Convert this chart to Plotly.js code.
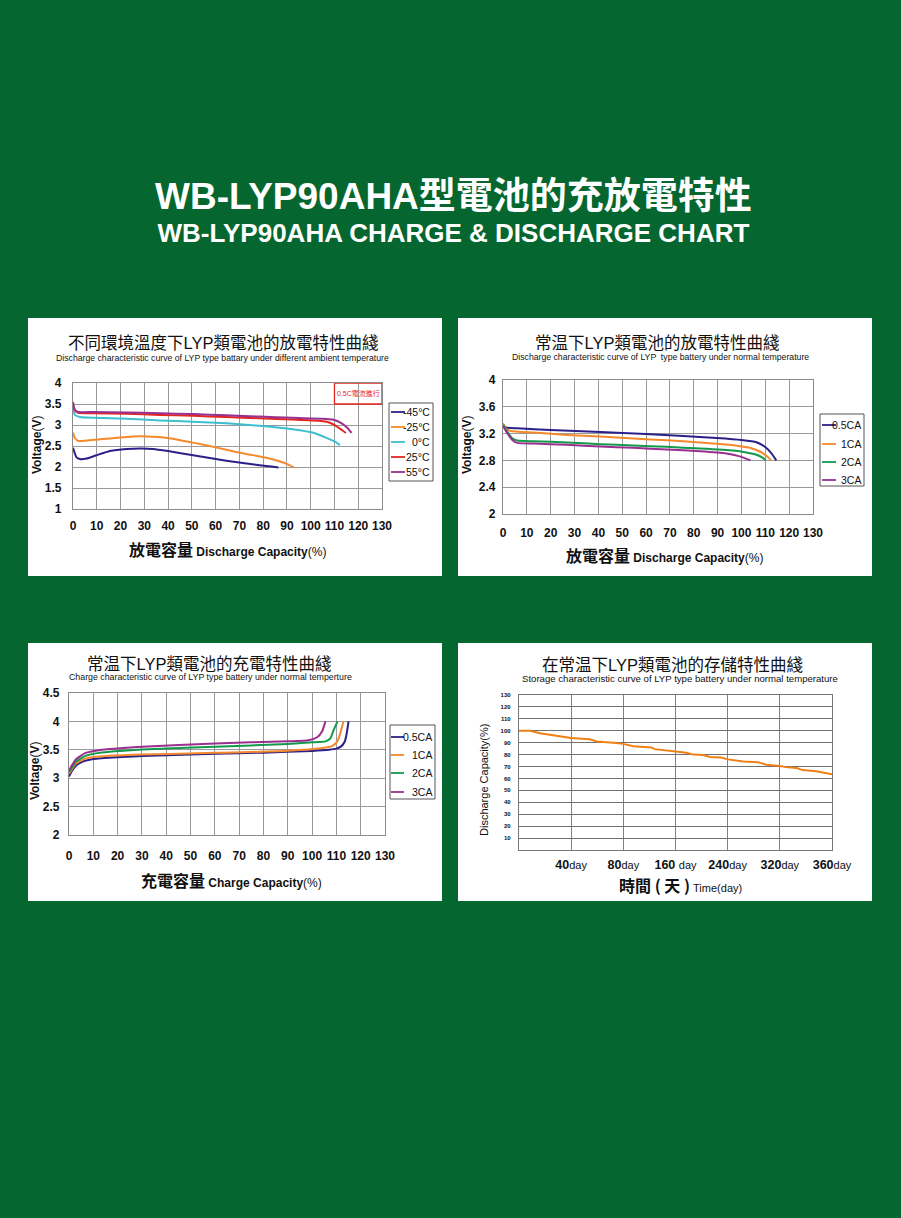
<!DOCTYPE html>
<html><head><meta charset="utf-8">
<script src="https://cdn.plot.ly/plotly-3.0.1.min.js"></script>
<style>html,body{margin:0;padding:0;background:#05672f;}#chart{width:901px;height:1218px;}</style>
</head><body><div id="chart"></div>
<script>
// ---------- DATA ----------
// Panel 1: discharge at different ambient temperatures (capacity %, voltage V)
const tempNames = ["-45°C", "-25°C", "0°C", "25°C", "55°C"];
const capM45 = [0,1.5,2.9,5.7,9.9,15.5,22.5,28.8,33.7,40,50.5,64.5,78.5,86.4];
const voltM45 = [2.46,2.23,2.19,2.2,2.28,2.38,2.43,2.44,2.43,2.38,2.28,2.15,2.04,1.99];
const capM25 = [0,0.8,2.2,5.7,11.3,19.7,28.1,33.7,40,50.5,57.5,64.5,72.9,81.3,89.7,92.9];
const voltM25 = [2.82,2.69,2.62,2.63,2.66,2.70,2.73,2.72,2.69,2.58,2.5,2.41,2.31,2.22,2.08,1.99];
const cap0 = [0,0.8,2.9,8.5,22.5,36.5,50.5,64.5,78.5,92.4,100.8,106.4,110.6,112.3];
const volt0 = [3.37,3.24,3.19,3.17,3.15,3.11,3.08,3.04,2.98,2.90,2.82,2.70,2.59,2.52];
const capP25 = [0,0.8,2.2,8.5,22.5,36.5,50.5,64.5,78.5,92.4,103.6,107.8,110.6,113.4,114.8];
const voltP25 = [3.47,3.35,3.29,3.28,3.27,3.24,3.22,3.19,3.16,3.13,3.10,3.06,2.98,2.87,2.81];
const capP55 = [0,0.8,2.2,8.5,22.5,36.5,50.5,64.5,78.5,92.4,105,109.2,112.7,115.5,117.2];
const voltP55 = [3.55,3.36,3.31,3.31,3.30,3.28,3.26,3.23,3.20,3.17,3.15,3.13,3.05,2.93,2.81];

// Panel 2: discharge at normal temperature, different rates
const rateNames = ["0.5CA", "1CA", "2CA", "3CA"];
const dCap05 = [0,1.1,6,19.9,40.8,59.9,75.6,89.6,100,106.3,109.7,112.5,114.6];
const dVolt05 = [3.343,3.294,3.279,3.254,3.225,3.195,3.165,3.136,3.106,3.072,3.007,2.909,2.8];
const dCap1 = [0,1.1,3.2,13,26.9,40.8,54.7,68.7,82.6,96.5,103.5,107.7,110.4,112.5];
const dVolt1 = [3.353,3.279,3.24,3.215,3.18,3.156,3.126,3.101,3.067,3.027,2.988,2.933,2.869,2.8];
const dCap2 = [0,1.8,3.9,6,13,26.9,40.8,54.7,68.7,82.6,96.5,102.1,106.3,109.1,110.2];
const dVolt2 = [3.328,3.23,3.131,3.096,3.086,3.067,3.042,3.022,3.002,2.978,2.948,2.919,2.884,2.835,2.8];
const dCap3 = [0,1.8,3.9,6,13,26.9,40.8,54.7,68.7,82.6,93.7,99.3,103.8];
const dVolt3 = [3.314,3.205,3.106,3.062,3.052,3.032,3.007,2.988,2.963,2.938,2.904,2.86,2.8];

// Panel 3: charge at normal temperature, different rates
const cCap05 = [0,1.4,3.4,6.2,10,20,40,60,80,100,107,110,112,113.5,114.3,115];
const cVolt05 = [3.03,3.14,3.24,3.30,3.34,3.37,3.405,3.43,3.45,3.48,3.50,3.52,3.56,3.65,3.8,4.0];
const cCap1 = [0,1.4,2.7,6.8,10.1,30.1,60.1,90,104.1,108.2,110.3,111.6,112.9];
const cVolt1 = [3.077,3.17,3.256,3.345,3.375,3.417,3.446,3.482,3.53,3.565,3.643,3.79,4.0];
const cCap2 = [0,1.4,2.7,6.8,12.3,30.1,60.1,90,100,105.5,107.5,108.9,110.5];
const cVolt2 = [3.107,3.2,3.286,3.393,3.446,3.506,3.554,3.601,3.631,3.649,3.702,3.851,4.0];
const cCap3 = [0,1.4,2.7,6.8,12.3,30.1,60.1,90,98.6,102.1,104.1,105.5];
const cVolt3 = [3.137,3.24,3.327,3.446,3.494,3.554,3.613,3.649,3.667,3.72,3.821,4.0];

// Panel 4: storage (position along the day axis, 0..6 grid steps; capacity %)
const dayTickLabels = ["40", "80", "160 ", "240", "320", "360"];
const storePos = [0,0.21,0.40,0.56,0.85,1.0,1.36,1.49,1.81,2.0,2.19,2.54,2.60,3.0,3.21,3.34,3.53,3.66,3.88,4.0,4.30,4.58,4.74,5.0,5.12,5.32,5.44,5.70,6.0];
const storeCap = [100,100,98,96.9,95.5,94,92.8,91,90,89,87,86,84.6,82.5,81.6,80,79.6,78,77.5,76,74.3,73.7,71.5,70.4,69.5,68.7,67,66,63.5];

const ticks1Y = [1,1.5,2,2.5,3,3.5,4];
const ticks2Y = [2,2.4,2.8,3.2,3.6,4];
const ticks3Y = [2,2.5,3,3.5,4,4.5];
const ticks4Y = [0,10,20,30,40,50,60,70,80,90,100,110,120,130];
const ticksCap = [0,10,20,30,40,50,60,70,80,90,100,110,120,130];

// ---------- STYLE ----------
const W = 901, H = 1218;
const X = px => px / W;
const Y = py => 1 - py / H;
const FONT = "Liberation Sans Narrow, Arial Narrow, Liberation Sans, Arial, Noto Sans CJK TC, sans-serif";
const CJK = "Liberation Sans, Arial, Noto Sans CJK TC, sans-serif";
const C = {navy:"#2b2088", orange:"#f48a2b", cyan:"#3cc0d0", red:"#e3261f", purple:"#99308f", green:"#13994b", store:"#f07f14"};
const tempColors = [C.navy, C.orange, C.cyan, C.red, C.purple];
const rateColors = [C.navy, C.orange, C.green, C.purple];
const GRID = "#9a9a9a";

function line(x, y, color, xa, ya, name) {
  return {type:"scatter", mode:"lines", x:x, y:y, name:name, xaxis:xa, yaxis:ya,
    line:{color:color, width:2, shape:"spline", smoothing:0.5}, showlegend:false, hoverinfo:"skip"};
}

const traces = [
  line(capM45, voltM45, tempColors[0], "x", "y", tempNames[0]),
  line(capM25, voltM25, tempColors[1], "x", "y", tempNames[1]),
  line(cap0, volt0, tempColors[2], "x", "y", tempNames[2]),
  line(capP25, voltP25, tempColors[3], "x", "y", tempNames[3]),
  line(capP55, voltP55, tempColors[4], "x", "y", tempNames[4]),
  line(dCap05, dVolt05, rateColors[0], "x2", "y2", rateNames[0]),
  line(dCap1, dVolt1, rateColors[1], "x2", "y2", rateNames[1]),
  line(dCap2, dVolt2, rateColors[2], "x2", "y2", rateNames[2]),
  line(dCap3, dVolt3, rateColors[3], "x2", "y2", rateNames[3]),
  line(cCap05, cVolt05, rateColors[0], "x3", "y3", rateNames[0]),
  line(cCap1, cVolt1, rateColors[1], "x3", "y3", rateNames[1]),
  line(cCap2, cVolt2, rateColors[2], "x3", "y3", rateNames[2]),
  line(cCap3, cVolt3, rateColors[3], "x3", "y3", rateNames[3]),
  {type:"scatter", mode:"lines", x:storePos, y:storeCap, xaxis:"x4", yaxis:"y4",
   line:{color:C.store, width:2}, showlegend:false, hoverinfo:"skip"}
];

function ax(domain, range, tickvals, ticktext, size, standoff, extra) {
  return Object.assign({
    domain:domain, range:range, tickmode:"array", tickvals:tickvals, ticktext:ticktext,
    showgrid:true, gridcolor:GRID, gridwidth:1, zeroline:false,
    showline:true, mirror:true, linecolor:"#8a8a8a", linewidth:1.2,
    ticks:"", ticklabelstandoff:standoff, fixedrange:true,
    tickfont:{family:FONT, size:size, color:"#111", weight:"bold"}
  }, extra || {});
}
const capText = ticksCap.map(String);

const layout = {
  width:W, height:H, margin:{l:0,r:0,t:0,b:0},
  paper_bgcolor:"#05672f", plot_bgcolor:"#ffffff", showlegend:false,
  xaxis: ax([X(73),X(382)], [0,130], ticksCap, capText, 12, 5, {anchor:"y"}),
  yaxis: ax([Y(509),Y(383)], [1,4], ticks1Y, ticks1Y.map(String), 12, 8, {anchor:"x"}),
  xaxis2: ax([X(503),X(813)], [0,130], ticksCap, capText, 12, 7, {anchor:"y2"}),
  yaxis2: ax([Y(514),Y(380)], [2,4], ticks2Y, ticks2Y.map(String), 12, 4, {anchor:"x2"}),
  xaxis3: ax([X(69),X(385)], [0,130], ticksCap, capText, 12, 9, {anchor:"y3"}),
  yaxis3: ax([Y(835),Y(693)], [2,4.5], ticks3Y, ticks3Y.map(String), 12, 6, {anchor:"x3"}),
  xaxis4: ax([X(519),X(832)], [0,6], [1,2,3,4,5,6],
     dayTickLabels.map(t => "<b>" + t + "</b><span style=\"font-weight:normal;font-size:11px\">day</span>"), 12.5, 3,
     {anchor:"y4", gridcolor:"#808080", linecolor:"#777", tickfont:{family:CJK, size:12.5, color:"#111", weight:"bold"}}),
  yaxis4: ax([Y(850),Y(695)], [0,130], ticks4Y, ticks4Y.map(v => v === 0 ? "" : String(v)), 6, 6,
     {anchor:"x4", gridcolor:"#707070", linecolor:"#777"}),
  shapes:[], annotations:[]
};

// white panels
[[28,318,442,576],[458,318,872,576],[28,643,442,901],[458,643,872,901]].forEach(r => {
  layout.shapes.push({type:"rect", xref:"paper", yref:"paper", x0:X(r[0]), x1:X(r[2]), y0:Y(r[3]), y1:Y(r[1]),
    fillcolor:"#ffffff", line:{width:0}, layer:"below"});
});

// red note box in panel 1
layout.shapes.push({type:"rect", xref:"x", yref:"y", x0:110, x1:130, y0:3.5, y1:4, line:{color:"#e3261f", width:1.3}});
layout.annotations.push({xref:"x", yref:"y", x:120, y:3.75, text:"0.5C電流進行", showarrow:false,
  font:{family:CJK, size:7, color:"#e3261f"}});

function ann(x, y, text, size, opts) {
  layout.annotations.push(Object.assign({xref:"paper", yref:"paper", x:X(x), y:Y(y), text:text, showarrow:false,
    xanchor:"center", yanchor:"middle", font:{family:FONT, size:size, color:"#111"}}, opts || {}));
}

// main title (one two-line text)
ann(453, 212,
  "<span style=\"font-size:37px;font-weight:bold\">WB-LYP90AHA型電池的充放電特性</span><br>" +
  "<span style=\"font-size:26px;font-weight:bold\">WB-LYP90AHA CHARGE &amp; DISCHARGE CHART</span>",
  25, {font:{family:CJK, size:25, color:"#ffffff"}});

// panel titles
const ttl = {family:CJK, size:16.5, color:"#111"};
ann(223, 343, "不同環境溫度下LYP類電池的放電特性曲綫", 16.5, {font:ttl});
ann(222, 358, "Discharge characteristic curve of LYP type battary under different ambient temperature", 8.7);
ann(657, 343, "常温下LYP類電池的放電特性曲綫", 16.5, {font:ttl});
ann(660, 357, "Discharge characteristic curve of LYP  type battery under normal temperature", 8.7);
ann(209, 664, "常温下LYP類電池的充電特性曲綫", 16.5, {font:ttl});
ann(210, 677, "Charge characteristic curve of LYP type battery under normal temperture", 8.8);
ann(672, 665, "在常温下LYP類電池的存儲特性曲綫", 16.5, {font:ttl});
ann(680, 678, "Storage characteristic curve of LYP type battery under normal temperature", 9.6, {font:{family:CJK, size:9.6, color:"#111"}});

// axis titles
const big = s => "<span style=\"font-family:Noto Sans CJK TC;font-size:16px;font-weight:bold\">" + s + "</span>";
ann(227, 549, big("放電容量") + " <b>Discharge Capacity</b>(%)", 12);
ann(664, 555, big("放電容量") + " <b>Discharge Capacity</b>(%)", 12);
ann(231, 880, big("充電容量") + " <b>Charge Capacity</b>(%)", 12);
ann(680, 885, big("時間 ( 天 )") + " <span style=\"font-size:11px\">Time(day)</span>", 12, {font:{family:CJK, size:11, color:"#111"}});
ann(37, 445, "<b>Voltage</b>(<b>V</b>)", 12, {textangle:-90});
ann(467, 445, "<b>Voltage</b>(<b>V</b>)", 12, {textangle:-90});
ann(35, 771, "<b>Voltage</b>(<b>V</b>)", 12, {textangle:-90});
ann(484, 780, "Discharge Capacity(%)", 11, {textangle:-90});

// manual legends built from the series names / colours
function legend(box, lineX0, lineX1, textRight, rows, names, colors) {
  layout.shapes.push({type:"rect", xref:"paper", yref:"paper", x0:X(box[0]), x1:X(box[2]), y0:Y(box[3]), y1:Y(box[1]),
    line:{color:"#555", width:1}, fillcolor:"#ffffff"});
  names.forEach((n, i) => {
    layout.shapes.push({type:"line", xref:"paper", yref:"paper", x0:X(lineX0), x1:X(lineX1), y0:Y(rows[i]), y1:Y(rows[i]),
      line:{color:colors[i], width:1.8}});
    ann(textRight, rows[i], n, 10.5, {xanchor:"right"});
  });
}
legend([389,403,433,481], 391, 405, 432, [412,427,442,457,472], tempNames, tempColors);
legend([820,414,864,486], 822, 836, 863, [425,444,462,480], rateNames, rateColors);
legend([390,725,435,799], 391, 404, 434, [737,755,773,792], rateNames, rateColors);

Plotly.newPlot("chart", traces, layout, {staticPlot:true, displayModeBar:false});
</script></body></html>
